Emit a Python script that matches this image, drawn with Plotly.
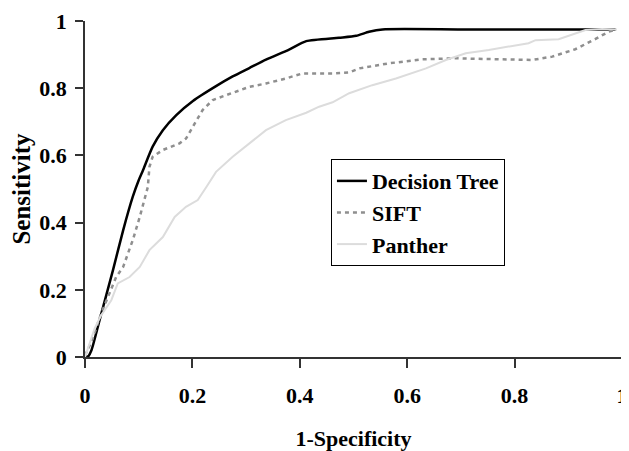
import plotly.graph_objects as go

# Decision Tree
dt_x = [0.0, 0.006, 0.012, 0.027, 0.052, 0.071, 0.089, 0.100, 0.108, 0.126, 0.145, 0.170,
        0.201, 0.244, 0.275, 0.306, 0.337, 0.380, 0.412, 0.473, 0.505, 0.529, 0.554, 0.700, 0.850, 0.988]
dt_y = [0.0, 0.002, 0.02, 0.109, 0.258, 0.377, 0.477, 0.526, 0.556, 0.626, 0.675, 0.720,
        0.762, 0.806, 0.835, 0.860, 0.885, 0.915, 0.940, 0.950, 0.956, 0.968, 0.975, 0.975, 0.975, 0.975]

# SIFT
sift_x = [0.0, 0.012, 0.030, 0.058, 0.071, 0.089, 0.102, 0.117, 0.120, 0.126, 0.145, 0.176,
          0.188, 0.201, 0.219, 0.238, 0.263, 0.306, 0.337, 0.374, 0.405, 0.461, 0.492, 0.511,
          0.566, 0.628, 0.690, 0.752, 0.833, 0.870, 0.913, 0.950, 0.975, 0.990]
sift_y = [0.005, 0.045, 0.129, 0.238, 0.268, 0.348, 0.417, 0.506, 0.566, 0.596, 0.616, 0.636,
          0.650, 0.685, 0.735, 0.765, 0.780, 0.804, 0.814, 0.829, 0.844, 0.844, 0.847, 0.859,
          0.874, 0.886, 0.889, 0.886, 0.884, 0.894, 0.916, 0.946, 0.968, 0.975]

# Panther
pan_x = [0.0, 0.018, 0.030, 0.049, 0.061, 0.083, 0.102, 0.120, 0.145, 0.167, 0.188, 0.210,
         0.226, 0.244, 0.275, 0.306, 0.337, 0.374, 0.412, 0.436, 0.461, 0.492, 0.535, 0.579,
         0.635, 0.672, 0.709, 0.752, 0.826, 0.839, 0.882, 0.932, 0.963, 0.990]
pan_y = [0.0, 0.085, 0.124, 0.169, 0.219, 0.238, 0.268, 0.318, 0.357, 0.417, 0.447, 0.467,
         0.506, 0.551, 0.596, 0.636, 0.675, 0.705, 0.727, 0.745, 0.758, 0.785, 0.809, 0.829,
         0.859, 0.884, 0.904, 0.914, 0.934, 0.943, 0.946, 0.973, 0.976, 0.975]

tick_vals = [0, 0.2, 0.4, 0.6, 0.8, 1]
tick_text = ["<b>0</b>", "<b>0.2</b>", "<b>0.4</b>", "<b>0.6</b>", "<b>0.8</b>", "<b>1</b>"]

FONT = "Liberation Serif"

fig = go.Figure()
fig.add_trace(go.Scatter(x=dt_x, y=dt_y, mode="lines", name="<b>Decision Tree</b>",
                         legendgroup="a",
                         line=dict(color="#000000", width=2.5, shape="spline", smoothing=0.6)))
fig.add_trace(go.Scatter(x=sift_x, y=sift_y, mode="lines", name="<b>SIFT</b>",
                         legendgroup="b", line=dict(color="#8f8f8f", width=2.5, dash="4px,4px")))
fig.add_trace(go.Scatter(x=pan_x, y=pan_y, mode="lines", name="<b>Panther</b>",
                         legendgroup="c", line=dict(color="#dcdcdc", width=2)))

axis_common = dict(
    range=[0, 1], tickvals=tick_vals, ticktext=tick_text, automargin=False,
    showgrid=False, zeroline=False, showline=True, linecolor="#333333", linewidth=1.5,
    ticks="outside", tickcolor="#333333", tickwidth=1.5,
    tickfont=dict(family=FONT, size=22, color="#000000"),
)

fig.update_xaxes(**axis_common, ticklen=9, ticklabelstandoff=9,
                 title=dict(text="<b>1-Specificity</b>", standoff=27,
                            font=dict(family=FONT, size=22, color="#000000")))
fig.update_yaxes(**axis_common, ticklen=8, ticklabelstandoff=4,
                 title=dict(text="<b>Sensitivity</b>", standoff=4,
                            font=dict(family=FONT, size=25, color="#000000")))

# page body has an 8px default margin, so the figure is sized to fit the window
fig.update_layout(
    width=621, height=443,
    margin=dict(l=77, r=7, t=13, b=94, autoexpand=False),
    plot_bgcolor="white", paper_bgcolor="white",
    font=dict(family=FONT, color="#000000"),
    legend=dict(x=0.458, y=0.589, xanchor="left", yanchor="top",
                bordercolor="#000000", borderwidth=1, bgcolor="white",
                font=dict(family=FONT, size=22, color="#000000"),
                tracegroupgap=6, traceorder="normal"),
)

fig.write_html("out.html")
